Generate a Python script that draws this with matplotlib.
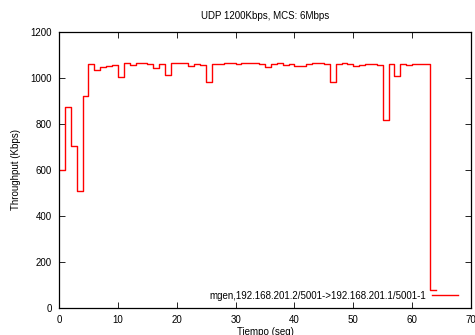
import numpy as np
import matplotlib
matplotlib.use('Agg')
import matplotlib.pyplot as plt

plt.rcParams['font.family'] = ['Liberation Sans', 'DejaVu Sans']

# throughput per second (Kbps)
t = np.arange(0, 65)
thr = [597, 874, 703, 509, 920, 1060, 1032, 1045, 1049, 1054,
       1004, 1065, 1057, 1064, 1064, 1061, 1042, 1060, 1012, 1065,
       1063, 1063, 1049, 1060, 1055, 980, 1058, 1058, 1063, 1063,
       1058, 1065, 1065, 1065, 1058, 1045, 1060, 1065, 1055, 1060,
       1053, 1052, 1061, 1064, 1063, 1060, 980, 1060, 1065, 1060,
       1052, 1055, 1060, 1058, 1055, 815, 1058, 1007, 1058, 1055,
       1058, 1060, 1060, 77]
thr = thr + [thr[-1]]   # close last step

serie = 'mgen,192.168.201.2/5001->192.168.201.1/5001-1'
titulo = 'UDP 1200Kbps, MCS: 6Mbps'
xticks = np.arange(0, 71, 10)
yticks = np.arange(0, 1201, 200)

fig = plt.figure(figsize=(4.75, 3.35), dpi=100)
ax = fig.add_axes([0.1242, 0.0815, 0.8674, 0.8239])

ax.step(t, thr, where='post', color='#ff0000', lw=1.0, label=serie)

ax.set_xlim(0, 70)
ax.set_ylim(0, 1200)
ax.set_xticks(xticks)
ax.set_yticks(yticks)
ax.tick_params(direction='in', length=4, width=0.6, labelsize=7,
               top=True, right=True, pad=5)
for s in ax.spines.values():
    s.set_linewidth(0.9)

ax.set_title(titulo, fontsize=7, pad=9)
ax.set_xlabel('Tiempo (seg)', fontsize=7, labelpad=1.5)
ax.set_ylabel('Throughput (Kbps)', fontsize=7, labelpad=7)

ax.legend(loc='lower right', frameon=False, fontsize=7, markerfirst=False,
          handlelength=2.7, handletextpad=0.6, borderaxespad=0.3,
          bbox_to_anchor=(0.985, 0.0))

fig.savefig('out.png', dpi=100)
